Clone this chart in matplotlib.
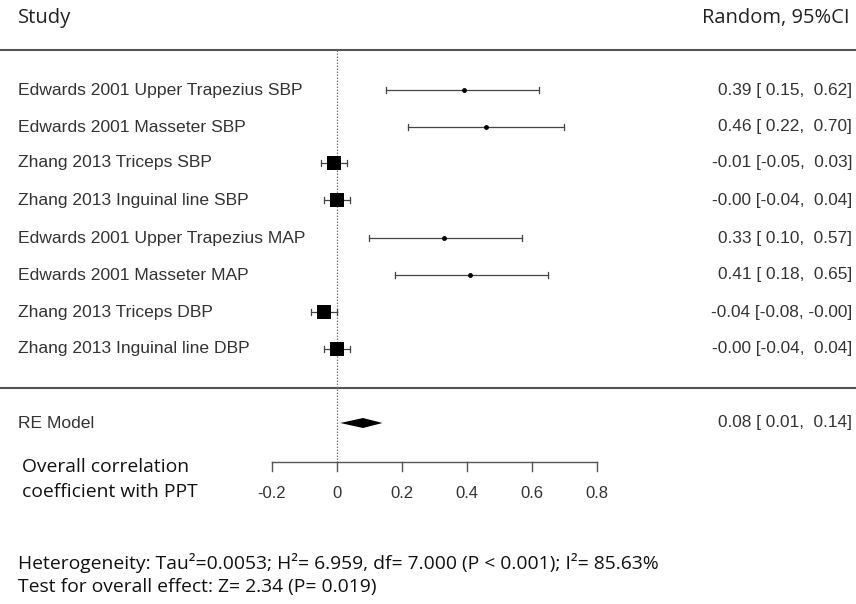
import matplotlib
matplotlib.use("Agg")
import matplotlib.pyplot as plt
import numpy as np

# Study-level correlations with 95% CI
studies = [
    "Edwards 2001 Upper Trapezius SBP",
    "Edwards 2001 Masseter SBP",
    "Zhang 2013 Triceps SBP",
    "Zhang 2013 Inguinal line SBP",
    "Edwards 2001 Upper Trapezius MAP",
    "Edwards 2001 Masseter MAP",
    "Zhang 2013 Triceps DBP",
    "Zhang 2013 Inguinal line DBP",
]
estimates = [0.39, 0.46, -0.01, -0.00, 0.33, 0.41, -0.04, -0.00]
ci_low = [0.15, 0.22, -0.05, -0.04, 0.10, 0.18, -0.08, -0.04]
ci_high = [0.62, 0.70, 0.03, 0.04, 0.57, 0.65, -0.00, 0.04]
marker_size = [3.5, 3.5, 9.5, 9.5, 3.5, 3.5, 9.5, 9.5]

# Pooled random-effects estimate
re_est, re_low, re_high = 0.08, 0.01, 0.14

axis_ticks = [-0.2, 0, 0.2, 0.4, 0.6, 0.8]
axis_labels = ["-0.2", "0", "0.2", "0.4", "0.6", "0.8"]

# ---- layout ------------------------------------------------------------
W, H = 856, 604
px_per_unit = 325.0
x_zero_px = 337.0
xmin = -x_zero_px / px_per_unit
xmax = (W - x_zero_px) / px_per_unit

fig = plt.figure(figsize=(W / 100, H / 100), dpi=100)
ax = fig.add_axes([0, 0, 1, 1])
ax.set_xlim(xmin, xmax)
ax.set_ylim(H, 0)
ax.axis("off")


def px(xp):
    return xmin + xp / px_per_unit


label_font = dict(family=["Liberation Sans", "DejaVu Sans"], fontsize=12.6, color="#333333")
num_font = dict(family=["Liberation Sans", "DejaVu Sans"], fontsize=12.4, color="#333333")
tick_font = dict(family=["Liberation Sans", "DejaVu Sans"], fontsize=12.0, color="#333333")
head_font = dict(family=["Open Sans", "DejaVu Sans"], fontsize=14.5, color="#222222")
foot_font = dict(family=["Open Sans", "DejaVu Sans"], fontsize=13.9, color="#111111")

row_y = [90, 127, 163, 200, 238, 275, 312, 349]
axis_y = 462

# header
ax.text(px(18), 18, "Study", va="center", ha="left", **head_font)
ax.text(px(850), 18, "Random, 95%CI", va="center", ha="right", **head_font)
ax.plot([xmin, xmax], [50, 50], color="#555555", lw=1.5)
ax.plot([xmin, xmax], [388, 388], color="#555555", lw=1.5)

# reference line at zero
ax.plot([0, 0], [50, axis_y], color="#777777", lw=0.9, ls=(0, (1.2, 1.2)))

# studies
for y, name, est, lo, hi, ms in zip(row_y, studies, estimates, ci_low, ci_high, marker_size):
    ax.text(px(18), y, name, va="center", ha="left", **label_font)
    ax.plot([lo, hi], [y, y], color="#444444", lw=0.9)
    ax.plot([lo, lo], [y - 3, y + 3], color="#444444", lw=0.9)
    ax.plot([hi, hi], [y - 3, y + 3], color="#444444", lw=0.9)
    ax.plot(est, y, marker="s" if ms > 5 else "o", color="black", ms=ms, mew=0)
    ax.text(px(852), y, f"{est:.2f} [{lo:5.2f}, {hi:5.2f}]",
            va="center", ha="right", **num_font)

# pooled estimate
re_y = 423
ax.text(px(18), re_y, "RE Model", va="center", ha="left", **label_font)
ax.fill([re_low, re_est, re_high, re_est], [re_y, re_y - 5, re_y, re_y + 5], color="black", lw=0)
ax.text(px(852), re_y, f"{re_est:.2f} [{re_low:5.2f}, {re_high:5.2f}]",
        va="center", ha="right", **num_font)

# x axis
ax.plot([axis_ticks[0], axis_ticks[-1]], [axis_y, axis_y], color="#555555", lw=1.0)
for t, lab in zip(axis_ticks, axis_labels):
    ax.plot([t, t], [axis_y, axis_y + 9], color="#555555", lw=1.0)
    ax.text(t, 493, lab, va="center", ha="center", **tick_font)

ax.text(px(22), 467, "Overall correlation", va="center", ha="left", **foot_font)
ax.text(px(22), 492, "coefficient with PPT", va="center", ha="left", **foot_font)

ax.text(px(18), 563,
        "Heterogeneity: Tau\u00b2=0.0053; H\u00b2= 6.959, df= 7.000 (P < 0.001); I\u00b2= 85.63%",
        va="center", ha="left", **foot_font)
ax.text(px(18), 587, "Test for overall effect: Z= 2.34 (P= 0.019)",
        va="center", ha="left", **foot_font)

fig.savefig("out.png", dpi=100)
